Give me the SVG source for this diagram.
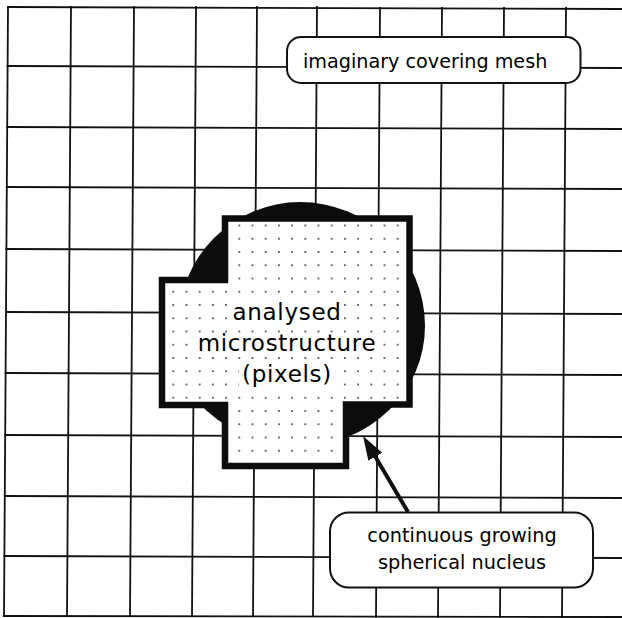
<svg xmlns="http://www.w3.org/2000/svg" width="622" height="618" viewBox="0 0 622 618">
  <style>
    .grid line { stroke: #111; stroke-width: 1.8; stroke-linecap: square; }
    .box { fill: #fff; stroke: #111; stroke-width: 2; }
    .lbl { font-family: "DejaVu Sans", "Liberation Sans", sans-serif; fill: #000; }
    .big { font-size: 23px; letter-spacing: 0.7px; text-anchor: middle; }
    .knock { fill: #fff; }
  </style>
  <defs>
    <pattern id="dots" patternUnits="userSpaceOnUse" x="166.7" y="218.875" width="13.2" height="13.25">
      <rect width="13.2" height="13.25" fill="#fff"/>
      <circle cx="6.6" cy="6.625" r="0.9" fill="#222"/>
    </pattern>
    <marker id="ah" markerUnits="userSpaceOnUse" markerWidth="24" markerHeight="16" viewBox="0 0 24 16" refX="8" refY="8" orient="auto">
      <path d="M0,0 L24,8 L0,16 Z" fill="#111"/>
    </marker>
  </defs>
  <rect width="622" height="618" fill="#fff"/>

  <g id="mesh" class="grid">
    <line x1="8" y1="7" x2="4" y2="616"/>
    <line x1="71" y1="7" x2="67" y2="616"/>
    <line x1="134" y1="7" x2="130" y2="616"/>
    <line x1="196" y1="7" x2="192" y2="616"/>
    <line x1="257" y1="7" x2="253" y2="616"/>
    <line x1="317" y1="7" x2="313" y2="616"/>
    <line x1="380" y1="8" x2="376" y2="617"/>
    <line x1="442" y1="8" x2="438" y2="617"/>
    <line x1="504" y1="8" x2="500" y2="617"/>
    <line x1="566" y1="8" x2="562" y2="617"/>
    <line x1="8" y1="7" x2="622" y2="9"/>
    <line x1="7.6" y1="66" x2="622" y2="68"/>
    <line x1="7.2" y1="127" x2="622" y2="129"/>
    <line x1="6.8" y1="187" x2="622" y2="189"/>
    <line x1="6.4" y1="249" x2="622" y2="251"/>
    <line x1="6" y1="312" x2="622" y2="314"/>
    <line x1="5.6" y1="373" x2="622" y2="375"/>
    <line x1="5.2" y1="435" x2="622" y2="437"/>
    <line x1="4.8" y1="496" x2="622" y2="498"/>
    <line x1="4.4" y1="556" x2="622" y2="558"/>
    <line x1="4" y1="616" x2="622" y2="617"/>
  </g>

  <g id="nucleus">
    <path d="M300,202 A125,124 0 0 1 425,326 A125,120 0 0 1 300,446 A132,120 0 0 1 168,326 L178,326 A122,124 0 0 1 300,202 Z" fill="#0c0c0c"/>
  </g>

  <g id="microstructure">
    <path d="M225,218.5 H409.5 V404.5 H346 V466 H225 V405 H162 V280 H225 Z" fill="url(#dots)" stroke="#0c0c0c" stroke-width="6.5" stroke-linejoin="miter"/>
    <rect class="knock" x="232" y="301" width="110" height="24"/>
    <rect class="knock" x="195" y="334" width="185" height="21"/>
    <rect class="knock" x="239" y="363" width="97" height="25"/>
    <text class="lbl big" x="287" y="319.5">analysed</text>
    <text class="lbl big" x="287" y="350.5">microstructure</text>
    <text class="lbl big" x="287" y="381.5">(pixels)</text>
  </g>

  <g id="connectors">
    <line x1="408" y1="512" x2="371.2" y2="449.8" stroke="#111" stroke-width="4" marker-end="url(#ah)"/>
  </g>

  <g id="label-mesh">
    <rect class="box" x="287" y="37" width="293.5" height="46" rx="14" ry="14"/>
    <text class="lbl" x="303" y="68" font-size="19.2">imaginary covering mesh</text>
  </g>

  <g id="label-nucleus">
    <rect class="box" x="330" y="512.5" width="263" height="75" rx="19" ry="19"/>
    <text class="lbl" x="462" y="541.5" font-size="19.3" text-anchor="middle">continuous growing</text>
    <text class="lbl" x="462" y="568.5" font-size="19.3" text-anchor="middle">spherical nucleus</text>
  </g>
</svg>
